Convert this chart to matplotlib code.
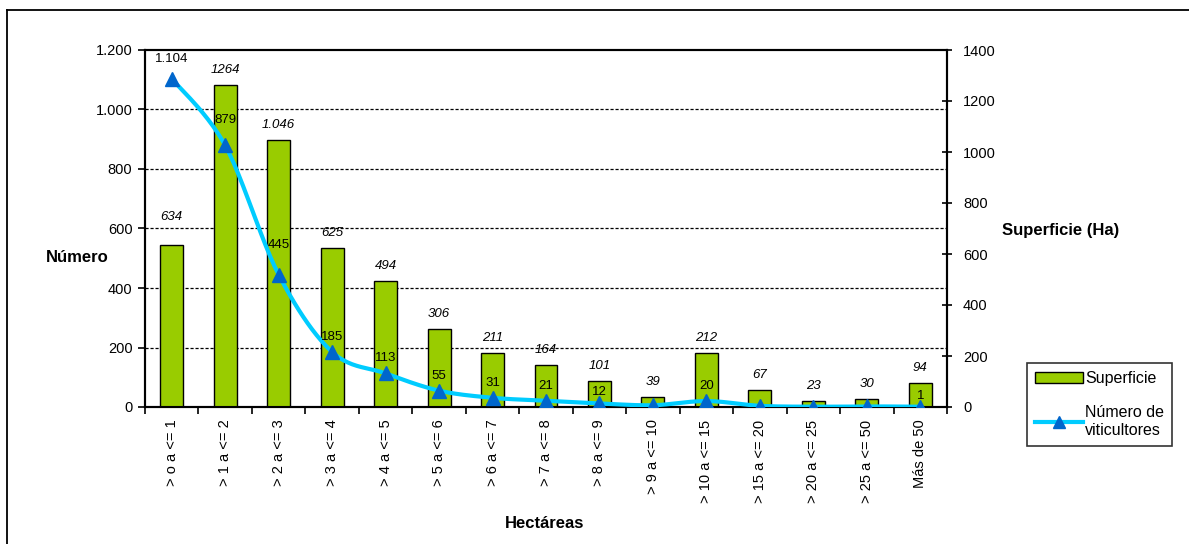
import matplotlib
matplotlib.use("Agg")
import matplotlib.pyplot as plt
import numpy as np
from matplotlib.lines import Line2D
from matplotlib.patches import Patch
from matplotlib.transforms import blended_transform_factory, offset_copy

plt.rcParams["font.family"] = ["Liberation Sans", "DejaVu Sans"]

# Size classes of the vineyards (hectares)
categories = ["> o a <= 1", "> 1 a <= 2", "> 2 a <= 3", "> 3 a <= 4", "> 4 a <= 5",
              "> 5 a <= 6", "> 6 a <= 7", "> 7 a <= 8", "> 8 a <= 9", "> 9 a <= 10",
              "> 10 a <= 15", "> 15 a <= 20", "> 20 a <= 25", "> 25 a <= 50", "Más de 50"]

# Total surface per class (Ha), right axis
superficie = [634, 1264, 1046, 625, 494, 306, 211, 164, 101, 39, 212, 67, 23, 30, 94]
superficie_labels = ["634", "1264", "1.046", "625", "494", "306", "211", "164", "101",
                     "39", "212", "67", "23", "30", "94"]

# Number of growers per class, left axis
viticultores = [1104, 879, 445, 185, 113, 55, 31, 21, 12, 6, 20, 4, 1, 2, 1]
viticultores_shown = [True, True, True, True, True, True, True, True, True,
                      False, True, False, False, False, True]

left_ticks = [0, 200, 400, 600, 800, 1000, 1200]
right_ticks = [0, 200, 400, 600, 800, 1000, 1200, 1400]


def miles(v):
    return f"{v:,.0f}".replace(",", ".")


def smooth(xs, ys, n=24):
    # Cardinal (Catmull-Rom) curve through the points, end points repeated
    xs = np.asarray(xs, float)
    ys = np.asarray(ys, float)
    px = np.concatenate([[xs[0]], xs, [xs[-1]]])
    py = np.concatenate([[ys[0]], ys, [ys[-1]]])
    ox, oy = [], []
    t = np.linspace(0, 1, n, endpoint=False)
    for i in range(1, len(px) - 2):
        for arr, out in ((px, ox), (py, oy)):
            p0, p1, p2, p3 = arr[i - 1], arr[i], arr[i + 1], arr[i + 2]
            c1 = p1 + (p2 - p0) / 6
            c2 = p2 - (p3 - p1) / 6
            out.extend((1 - t) ** 3 * p1 + 3 * (1 - t) ** 2 * t * c1
                       + 3 * (1 - t) * t ** 2 * c2 + t ** 3 * p2)
    ox.append(xs[-1])
    oy.append(ys[-1])
    return np.array(ox), np.array(oy)


W, H = 1189, 544
fig = plt.figure(figsize=(W / 100, H / 100), dpi=100)

# Outer frame of the chart area
fig.add_artist(Line2D([7 / W, 7 / W], [0, 1 - 10 / H], transform=fig.transFigure,
                      color="black", lw=1.3))
fig.add_artist(Line2D([7 / W, 1.0], [1 - 10 / H, 1 - 10 / H], transform=fig.transFigure,
                      color="black", lw=1.3))

rect = [145 / W, 1 - 407 / H, (947 - 145) / W, (407 - 50) / H]
ax_bar = fig.add_axes(rect)
ax = ax_bar.twinx()
ax.set_zorder(ax_bar.get_zorder() + 1)
ax.patch.set_visible(False)

x = np.arange(len(categories))

# Bars (surface) on the right scale
ax_bar.bar(x, superficie, width=0.43, color="#99CC00", edgecolor="black", linewidth=1.0,
           zorder=3)
ax_bar.set_ylim(0, 1400)
ax_bar.set_xlim(-0.5, len(categories) - 0.5)
ax_bar.yaxis.tick_right()
ax_bar.set_yticks(right_ticks)
ax_bar.set_yticklabels([str(v) for v in right_ticks], fontsize=10.5)
ax_bar.tick_params(axis="y", direction="inout", length=7, width=1.2, pad=8)

# Grid lines on the left scale, behind the bars
grid_tr = blended_transform_factory(ax_bar.transAxes, ax.transData)
for v in left_ticks[1:-1]:
    ax_bar.plot([0, 1], [v, v], transform=grid_tr, color="black", lw=0.9,
                ls=(0, (2.5, 1.5)), zorder=1)

# Line (growers) on the left scale
ax.set_ylim(0, 1200)
ax.yaxis.tick_left()
ax.set_yticks(left_ticks)
ax.set_yticklabels([miles(v) for v in left_ticks], fontsize=10.5)
ax.tick_params(axis="y", direction="out", length=5, width=1.2, pad=4)
ax.tick_params(axis="x", which="both", bottom=False, top=False,
               labelbottom=False, labeltop=False)
sx, sy = smooth(x, viticultores)
ax.plot(sx, sy, color="#00CCFF", lw=3, zorder=3, solid_capstyle="round")
ax.plot(x, viticultores, ls="none", marker="^", ms=10, color="#0066CC", zorder=4)

# X axis
ax_bar.set_xticks(x)
ax_bar.set_xticklabels(categories, rotation=90, fontsize=10.5, va="top", ha="center")
ax_bar.tick_params(axis="x", length=0, pad=9)
ax_bar.set_xticks(np.arange(-0.5, len(categories), 1), minor=True)
ax_bar.tick_params(axis="x", which="minor", direction="out", length=5, width=1.2)

for a in (ax, ax_bar):
    for s in a.spines.values():
        s.set_linewidth(1.5)
        s.set_color("black")

# Value labels for the bars (italic)
for i, (v, lab) in enumerate(zip(superficie, superficie_labels)):
    dy = 28 if i == 0 else 15
    tr = offset_copy(ax_bar.transData, fig=fig, x=0, y=dy, units="dots")
    ax_bar.text(i, v, lab, transform=tr, ha="center", va="center", fontsize=9.5,
                style="italic", zorder=6)

# Value labels for the line
line_dy = {0: 20, 1: 25, 2: 30}
for i, (v, show) in enumerate(zip(viticultores, viticultores_shown)):
    if not show:
        continue
    dy = line_dy.get(i, 15 if v > 15 else 11)
    tr = offset_copy(ax.transData, fig=fig, x=0, y=dy, units="dots")
    ax.text(i, v, miles(v), transform=tr, ha="center", va="center", fontsize=9.5, zorder=6)

# Axis titles
fig.text(77 / W, 1 - 257 / H, "Número", ha="center", va="center", fontsize=12,
         fontweight="bold")
fig.text(1061 / W, 1 - 230 / H, "Superficie (Ha)", ha="center", va="center",
         fontsize=12, fontweight="bold")
fig.text(545 / W, 1 - 523 / H, "Hectáreas", ha="center", va="center", fontsize=12,
         fontweight="bold")

# Legend
handles = [Patch(facecolor="#99CC00", edgecolor="black", linewidth=1.0),
           Line2D([], [], color="#00CCFF", lw=3, marker="^", ms=9,
                  markerfacecolor="#0066CC", markeredgecolor="#0066CC")]
leg = fig.legend(handles, ["Superficie", "Número de\nviticultores"],
                 loc="upper left", bbox_to_anchor=(1027 / W, 1 - 363 / H),
                 fontsize=11.5, frameon=True, fancybox=False, edgecolor="black",
                 handlelength=3.0, handletextpad=0.15, labelspacing=1.2,
                 borderpad=0.5, borderaxespad=0)
leg.get_frame().set_linewidth(1.2)

fig.savefig("out.png", dpi=100)
